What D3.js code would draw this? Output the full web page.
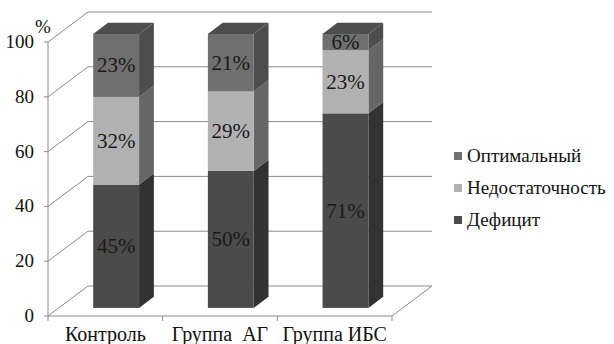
<!DOCTYPE html>
<html lang="ru">
<head>
<meta charset="utf-8">
<script src="https://cdn.jsdelivr.net/npm/d3@7"></script>
<style>
  body { margin: 0; }
  #chart text { font-family: "Liberation Serif", "Times New Roman", serif; }
</style>
</head>
<body>
<svg id="chart" width="614" height="344"></svg>
<script>
// Categories and stacked series (percent)
const categories = ["Контроль", "Группа  АГ", "Группа ИБС"];
const seriesNames = ["Дефицит", "Недостаточность", "Оптимальный"];
const deficit = [45, 50, 71];
const insufficient = [32, 29, 23];
const optimal = [23, 21, 6];
const yTicks = [0, 20, 40, 60, 80, 100];
const legendOrder = ["Оптимальный", "Недостаточность", "Дефицит"];

// Face colours per series: front, side, top
const colors = {
  "Дефицит":        { front: "#4b4b4b", side: "#323232", top: "#3c3c3c" },
  "Недостаточность": { front: "#b1b1b1", side: "#666666", top: "#8a8a8a" },
  "Оптимальный":     { front: "#6f6f6f", side: "#4d4d4d", top: "#4e4e4e" }
};

const FONT = "Liberation Serif";
const svg = d3.select("#chart");

// Front plane of the 3D box
const x = d3.scaleBand().domain(categories).range([48, 392]).paddingInner(0.6).paddingOuter(0.3);
const y = d3.scaleLinear().domain([0, 100]).range([316, 42]);

// Depth offsets (oblique projection)
const depthX = 40, depthY = -30;
const barFront = 0.27, barBack = 0.64;

const gridColor = "#8a8a8a";
const g = svg.append("g");

// Side wall diagonals and back wall gridlines
yTicks.forEach(v => {
  g.append("line")
    .attr("x1", 48).attr("y1", y(v))
    .attr("x2", 48 + depthX).attr("y2", y(v) + depthY)
    .attr("stroke", gridColor).attr("stroke-width", 1);
  g.append("line")
    .attr("x1", 48 + depthX).attr("y1", y(v) + depthY)
    .attr("x2", 392 + depthX).attr("y2", y(v) + depthY)
    .attr("stroke", gridColor).attr("stroke-width", 1);
});
// Floor right edge
g.append("line")
  .attr("x1", 392).attr("y1", y(0))
  .attr("x2", 392 + depthX).attr("y2", y(0) + depthY)
  .attr("stroke", gridColor);

// Vertical axis line and ticks
g.append("line").attr("x1", 48).attr("y1", y(0)).attr("x2", 48).attr("y2", y(100)).attr("stroke", gridColor);
yTicks.forEach(v => {
  g.append("line").attr("x1", 44).attr("y1", y(v)).attr("x2", 48).attr("y2", y(v)).attr("stroke", gridColor);
});
svg.selectAll("text.tick").data(yTicks).join("text")
  .attr("class", "tick")
  .attr("x", 34).attr("y", d => y(d) + 6)
  .attr("text-anchor", "end")
  .attr("font-family", FONT)
  .attr("font-size", 19)
  .attr("fill", "#111")
  .text(d => d);
svg.append("text").attr("x", 35).attr("y", 33)
  .attr("font-family", FONT)
  .attr("font-size", 19).attr("fill", "#111").text("%");

// Category axis line and ticks
g.append("line").attr("x1", 48).attr("y1", y(0)).attr("x2", 392).attr("y2", y(0)).attr("stroke", gridColor);
const stepEdges = d3.range(categories.length + 1).map(i => 48 + i * x.step());
stepEdges.forEach(px => {
  g.append("line").attr("x1", px).attr("y1", y(0)).attr("x2", px).attr("y2", y(0) + 5).attr("stroke", gridColor);
});
svg.selectAll("text.cat").data(categories).join("text")
  .attr("class", "cat")
  .attr("x", (d, i) => (stepEdges[i] + stepEdges[i + 1]) / 2)
  .attr("y", 341)
  .attr("text-anchor", "middle")
  .attr("font-family", FONT)
  .attr("font-size", 20)
  .attr("fill", "#111")
  .style("white-space", "pre")
  .text(d => d);

// Stacked 3D bars
const table = categories.map((c, i) => ({
  cat: c, "Дефицит": deficit[i], "Недостаточность": insufficient[i], "Оптимальный": optimal[i]
}));
const stacked = d3.stack().keys(seriesNames)(table);

const fx = barFront * depthX, fy = barFront * depthY;
const dx = (barBack - barFront) * depthX, dy = (barBack - barFront) * depthY;
const labels = [];

categories.forEach((c, i) => {
  const x0 = x(c) + fx, x1 = x0 + x.bandwidth();
  stacked.forEach((layer, li) => {
    const [v0, v1] = layer[i];
    const col = colors[layer.key];
    const yb = y(v0) + fy, yt = y(v1) + fy;
    // side face
    g.append("path")
      .attr("d", `M${x1},${yb} L${x1 + dx},${yb + dy} L${x1 + dx},${yt + dy} L${x1},${yt} Z`)
      .attr("fill", col.side);
    // front face
    g.append("rect")
      .attr("x", x0).attr("y", yt).attr("width", x1 - x0).attr("height", yb - yt)
      .attr("fill", col.front);
    // top face on the uppermost segment
    if (li === stacked.length - 1) {
      g.append("path")
        .attr("d", `M${x0},${yt} L${x0 + dx},${yt + dy} L${x1 + dx},${yt + dy} L${x1},${yt} Z`)
        .attr("fill", col.top);
    }
    labels.push({ x: (x0 + x1) / 2, y: (yb + yt) / 2 + 7, t: layer[i].data[layer.key] + "%" });
  });
});

// Value labels
svg.selectAll("text.val").data(labels).join("text")
  .attr("class", "val")
  .attr("x", d => d.x).attr("y", d => d.y)
  .attr("text-anchor", "middle")
  .attr("font-family", FONT)
  .attr("font-size", 21)
  .attr("fill", "#1a1a1a")
  .text(d => d.t);

// Legend
legendOrder.forEach((name, i) => {
  const cy = 156 + i * 32;
  svg.append("rect")
    .attr("x", 454).attr("y", cy - 4).attr("width", 8).attr("height", 8)
    .attr("fill", colors[name].front);
});
svg.selectAll("text.leg").data(legendOrder).join("text")
  .attr("class", "leg")
  .attr("x", 467).attr("y", (d, i) => 156 + i * 32 + 6)
  .attr("font-family", FONT)
  .attr("font-size", 19)
  .attr("fill", "#111")
  .text(d => d);
</script>
</body>
</html>
